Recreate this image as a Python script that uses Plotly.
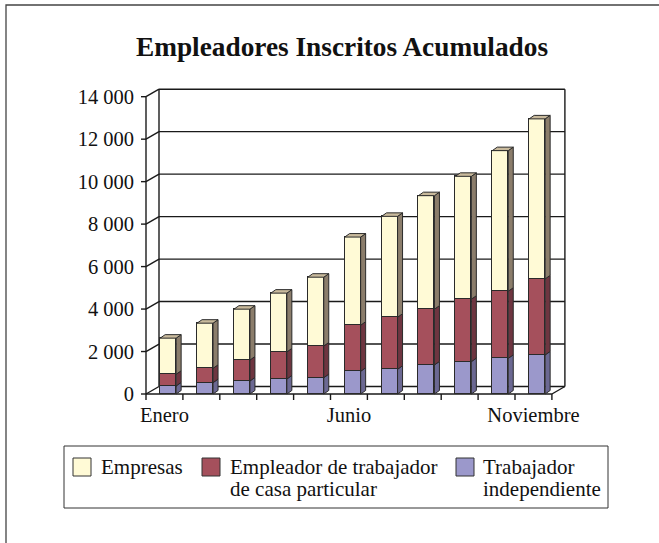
import numpy as np
import plotly.graph_objects as go

# ---------------- data ----------------
months = ["Enero", "Febrero", "Marzo", "Abril", "Mayo", "Junio", "Julio",
          "Agosto", "Septiembre", "Octubre", "Noviembre"]
trabajador_independiente = [380, 535, 613, 707, 770, 1070, 1165, 1370, 1525, 1680, 1840]
empleador_casa_particular = [550, 675, 987, 1273, 1490, 2170, 2450, 2625, 2940, 3160, 3580]
empresas = [1700, 2125, 2395, 2770, 3240, 4150, 4750, 5345, 5785, 6620, 7535]
y_ticks = [0, 2000, 4000, 6000, 8000, 10000, 12000, 14000]
y_tick_labels = ["0", "2 000", "4 000", "6 000", "8 000", "10 000", "12 000", "14 000"]
x_label_months = ["Enero", "Junio", "Noviembre"]

series = [
    ("Trabajador<br>independiente", trabajador_independiente, "#9B98CB", "#6B6892", "#8a87b8"),
    ("Empleador de trabajador<br>de casa particular", empleador_casa_particular, "#A5505C", "#6E3540", "#8a4450"),
    ("Empresas", empresas, "#FFFAD6", "#8B7D6B", "#C9BA9C"),
]

# ---------------- geometry (pixels) ----------------
W, H = 659, 543
L, R, T, B = 140, 575, 85, 400          # plot area
X0PX, CATW = 146, 36.9                  # px of x=0.5, px per category
Y0PX, PXPERUNIT = 394, (394 - 96.7) / 14000
xr = [0.5 - (X0PX - L) / CATW, 0.5 + (R - X0PX) / CATW]
yr = [-(B - Y0PX) / PXPERUNIT, (Y0PX - T) / PXPERUNIT]

def dxu(px):
    return px / CATW

def dyu(px):
    return px / PXPERUNIT

BDX, BDY = dxu(13), dyu(7.5)     # back wall offset
DDX, DDY = dxu(5), dyu(3.5)      # bar depth offset
BW = dxu(16)                     # bar width
SHIFT = dxu(3.7)

n = len(months)
xc = np.arange(1, n + 1) + SHIFT

fig = go.Figure()

# ---------------- front faces (bars) ----------------
for name, vals, face, side, top in series:
    fig.add_trace(go.Bar(x=xc, y=vals, width=BW, name=name, showlegend=False,
                         marker=dict(color=face, line=dict(color="#2a2a2a", width=1))))

# ---------------- side and top faces ----------------
cum = np.zeros(n)
for si, (name, vals, face, side, top) in enumerate(series):
    v = np.array(vals, dtype=float)
    xs, ys = [], []
    for i in range(n):
        xr_ = xc[i] + BW / 2
        y0, y1 = cum[i], cum[i] + v[i]
        xs += [xr_, xr_ + DDX, xr_ + DDX, xr_, xr_, None]
        ys += [y0, y0 + DDY, y1 + DDY, y1, y0, None]
    fig.add_trace(go.Scatter(x=xs, y=ys, mode="lines", fill="toself", fillcolor=side,
                             line=dict(color="#2a2a2a", width=1), showlegend=False,
                             hoverinfo="skip"))
    cum = cum + v
    if si == len(series) - 1:
        xs, ys = [], []
        for i in range(n):
            xl_ = xc[i] - BW / 2
            xr_ = xc[i] + BW / 2
            yt = cum[i]
            xs += [xl_, xl_ + DDX, xr_ + DDX, xr_, xl_, None]
            ys += [yt, yt + DDY, yt + DDY, yt, yt, None]
        fig.add_trace(go.Scatter(x=xs, y=ys, mode="lines", fill="toself", fillcolor=top,
                                 line=dict(color="#2a2a2a", width=1), showlegend=False,
                                 hoverinfo="skip"))

# ---------------- walls, grid, axes (shapes below traces) ----------------
shapes = []
gl = dict(color="#1a1a1a", width=1.4)
xa, xb = 0.5, n + 0.5
for v in y_ticks:
    shapes.append(dict(type="line", xref="x", yref="y", x0=xa + BDX, x1=xb + BDX,
                       y0=v + BDY, y1=v + BDY, line=gl, layer="below"))
    shapes.append(dict(type="line", xref="x", yref="y", x0=xa, x1=xa + BDX,
                       y0=v, y1=v + BDY, line=gl, layer="below"))
    shapes.append(dict(type="line", xref="x", yref="y", x0=xa - dxu(5), x1=xa,
                       y0=v, y1=v, line=gl, layer="below"))
shapes.append(dict(type="line", xref="x", yref="y", x0=xa + BDX, x1=xa + BDX,
                   y0=BDY, y1=y_ticks[-1] + BDY, line=gl, layer="below"))
shapes.append(dict(type="line", xref="x", yref="y", x0=xb + BDX, x1=xb + BDX,
                   y0=BDY, y1=y_ticks[-1] + BDY, line=gl, layer="below"))
shapes.append(dict(type="line", xref="x", yref="y", x0=xa, x1=xa,
                   y0=0, y1=y_ticks[-1], line=gl, layer="below"))
shapes.append(dict(type="line", xref="x", yref="y", x0=xa, x1=xb,
                   y0=0, y1=0, line=gl, layer="below"))
shapes.append(dict(type="line", xref="x", yref="y", x0=xb, x1=xb + BDX,
                   y0=0, y1=BDY, line=gl, layer="below"))
for k in range(n + 1):
    shapes.append(dict(type="line", xref="x", yref="y", x0=xa + k, x1=xa + k,
                       y0=0, y1=-dyu(6), line=gl, layer="below"))

# ---------------- legend (manual) ----------------
def px2x(px):
    return (px - L) / (R - L)

def px2y(py):
    return (B - py) / (B - T)

shapes.append(dict(type="rect", xref="paper", yref="paper", x0=px2x(64), x1=px2x(608),
                   y0=px2y(446), y1=px2y(508), line=dict(color="#333", width=1),
                   fillcolor="white", layer="below"))
# outer frame
shapes.append(dict(type="rect", xref="paper", yref="paper", x0=px2x(6), x1=px2x(720),
                   y0=px2y(600), y1=px2y(5), line=dict(color="#444", width=1.3),
                   layer="below"))

legend_items = [
    (series[2][0], series[2][2], 73, 99),
    (series[1][0], series[1][2], 202, 228),
    (series[0][0], series[0][2], 456, 481),
]
annotations = []
for name, color, sx, tx in legend_items:
    shapes.append(dict(type="rect", xref="paper", yref="paper", x0=px2x(sx), x1=px2x(sx + 18),
                       y0=px2y(476), y1=px2y(458), fillcolor=color,
                       line=dict(color="#333", width=1)))
    for li, line in enumerate(name.split("<br>")):
        annotations.append(dict(xref="paper", yref="paper", x=px2x(tx), y=px2y(467 + 22 * li),
                                xanchor="left", yanchor="middle", align="left", showarrow=False,
                                text=line,
                                font=dict(family="Liberation Serif", size=21, color="#111")))

fig.update_layout(
    width=W, height=H,
    margin=dict(l=L, r=W - R, t=T, b=H - B, pad=0),
    paper_bgcolor="white", plot_bgcolor="rgba(0,0,0,0)",
    barmode="stack", bargap=0,
    showlegend=False,
    title=dict(text="<b>Empleadores Inscritos Acumulados</b>", x=342 / W, xanchor="center",
               y=1 - 46 / H, yanchor="middle",
               font=dict(family="Liberation Serif", size=27.3, color="#111")),
    xaxis=dict(range=xr, showgrid=False, zeroline=False, showline=False, ticks="",
               tickmode="array", tickvals=[months.index(m) + 1 for m in x_label_months],
               ticktext=x_label_months,
               tickfont=dict(family="Liberation Serif", size=20.5, color="#111")),
    yaxis=dict(range=yr, showgrid=False, zeroline=False, showline=False, ticks="",
               tickmode="array", tickvals=y_ticks, ticktext=y_tick_labels,
               ticklabelstandoff=5,
               tickfont=dict(family="Liberation Serif", size=20.5, color="#111")),
    shapes=shapes, annotations=annotations,
)

fig.write_html("out.html", config={"displayModeBar": False},
               post_script="document.body.style.margin='0';document.body.style.overflow='hidden';")
